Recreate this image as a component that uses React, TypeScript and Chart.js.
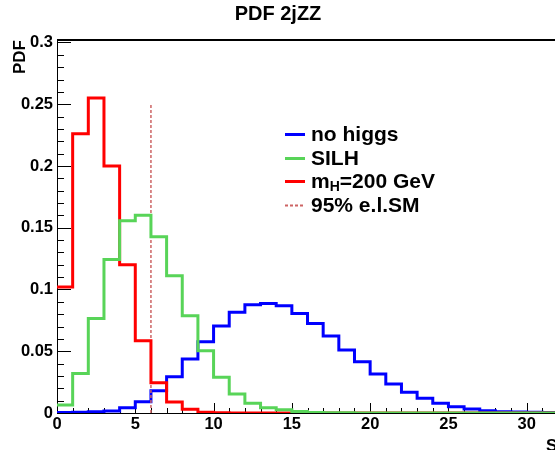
import React, { useEffect, useRef } from "react";
import { Chart, registerables } from "chart.js";

Chart.register(...registerables);

const TITLE = "PDF 2jZZ";
const Y_TITLE = "PDF";
const X_TITLE = "S";

const BIN_EDGES = [
  0, 1, 2, 3, 4, 5, 6, 7, 8, 9, 10, 11, 12, 13, 14, 15, 16, 17, 18, 19, 20,
  21, 22, 23, 24, 25, 26, 27, 28, 29, 30, 31, 32, 33, 34, 35,
];

const NO_HIGGS = [
  0.0005, 0.0007, 0.001, 0.0016, 0.0043, 0.0092, 0.018, 0.0294, 0.0437, 0.0577,
  0.0704, 0.0815, 0.0876, 0.0887, 0.0868, 0.0806, 0.0725, 0.0623, 0.051, 0.0415,
  0.0316, 0.0235, 0.0167, 0.0119, 0.0078, 0.0051, 0.0032, 0.0019, 0.0011, 0.0008,
  0.0006, 0.0004, 0.0003, 0.0002, 0.0001,
];

const SILH = [
  0.0065, 0.032, 0.0766, 0.1243, 0.1556, 0.1602, 0.1427, 0.1111, 0.0787, 0.0504,
  0.0289, 0.0154, 0.0078, 0.0042, 0.0026, 0.0012, 0.0005, 0.0003, 0.0002, 0.0001,
  0, 0, 0, 0, 0, 0, 0, 0, 0, 0, 0, 0, 0, 0, 0,
];

const MH200 = [
  0.102, 0.226, 0.255, 0.2, 0.12, 0.0585, 0.0245, 0.009, 0.003, 0.0006,
  0.0003, 0.0001, 0, 0, 0, 0, 0, 0, 0, 0,
  0, 0, 0, 0, 0, 0, 0, 0, 0, 0, 0, 0, 0, 0, 0,
];

const CL95_X = [6, 6];
const CL95_Y = [0, 0.25];

const SERIES_LABELS = ["no higgs", "SILH", "m_H=200 GeV", "95% e.l.SM"];

const X_TICKS = [0, 5, 10, 15, 20, 25, 30, 35];
const X_TICK_LABELS = ["0", "5", "10", "15", "20", "25", "30", "35"];
const Y_TICKS = [0, 0.05, 0.1, 0.15, 0.2, 0.25, 0.3];
const Y_TICK_LABELS = ["0", "0.05", "0.1", "0.15", "0.2", "0.25", "0.3"];

const X_MIN = 0;
const X_MAX = 35;
const Y_MIN = 0;
const Y_MAX = 0.302;
const X_MINOR_STEP = 1;
const Y_MINOR_STEP = 0.01;

const FONT = "'Liberation Sans', Arial, sans-serif";

function toSteps(values: number[]) {
  const pts = values.map((y, i) => ({ x: BIN_EDGES[i], y }));
  pts.push({ x: BIN_EDGES[values.length], y: values[values.length - 1] });
  return pts;
}

const decorPlugin = {
  id: "decor",
  beforeDatasetsDraw(chart: any) {
    const { ctx, chartArea: a, scales } = chart;
    const xs = scales.x;
    const ys = scales.y;
    ctx.save();
    ctx.strokeStyle = "#000";
    ctx.lineWidth = 1;
    ctx.beginPath();
    ctx.moveTo(a.left + 0.5, a.top);
    ctx.lineTo(a.left + 0.5, a.bottom + 1);
    ctx.moveTo(a.left, a.bottom + 0.5);
    ctx.lineTo(a.right, a.bottom + 0.5);
    ctx.moveTo(a.right - 0.5, a.top);
    ctx.lineTo(a.right - 0.5, a.bottom);
    ctx.stroke();
    ctx.lineWidth = 2;
    ctx.beginPath();
    ctx.moveTo(a.left, a.top);
    ctx.lineTo(a.right, a.top);
    ctx.stroke();

    ctx.lineWidth = 1;
    ctx.beginPath();
    for (let v = X_MIN; v <= X_MAX + 1e-9; v += X_MINOR_STEP) {
      const px = Math.round(xs.getPixelForValue(v)) + 0.5;
      const major = X_TICKS.some((t) => Math.abs(t - v) < 1e-9);
      const len = major ? 10 : 5;
      ctx.moveTo(px, a.bottom);
      ctx.lineTo(px, a.bottom - len);
    }
    for (let k = 0; k * Y_MINOR_STEP <= Y_MAX + 1e-9; k++) {
      const v = k * Y_MINOR_STEP;
      const py = Math.round(ys.getPixelForValue(v)) + 0.5;
      const major = Y_TICKS.some((t) => Math.abs(t - v) < 1e-9);
      const len = major ? 14 : 7;
      ctx.moveTo(a.left, py);
      ctx.lineTo(a.left + len, py);
    }
    ctx.stroke();
    ctx.restore();
  },
  afterDraw(chart: any) {
    const { ctx } = chart;
    ctx.save();
    ctx.fillStyle = "#000";
    ctx.font = `bold 20px ${FONT}`;
    ctx.textAlign = "center";
    ctx.textBaseline = "alphabetic";
    ctx.fillText(TITLE, 278, 20);

    ctx.save();
    ctx.translate(25, 40);
    ctx.rotate(-Math.PI / 2);
    ctx.font = `bold 17px ${FONT}`;
    ctx.textAlign = "right";
    ctx.fillText(Y_TITLE, 0, 0);
    ctx.restore();

    ctx.font = `bold 17px ${FONT}`;
    ctx.textAlign = "left";
    ctx.fillText(X_TITLE, 546, 451);

    const baselines = [140.5, 164.5, 188, 212];
    chart.data.datasets.forEach((ds: any, i: number) => {
      const yb = baselines[i];
      const yl = Math.round(yb - 7) + 0.5;
      ctx.save();
      ctx.strokeStyle = ds.borderColor;
      ctx.lineWidth = ds.legendWidth || ds.borderWidth;
      ctx.setLineDash(ds.borderDash || []);
      ctx.beginPath();
      ctx.moveTo(285, yl);
      ctx.lineTo(305, yl);
      ctx.stroke();
      ctx.restore();

      const label: string = ds.label;
      const m = label.match(/^(.*?)_(\w)(.*)$/);
      ctx.textAlign = "left";
      ctx.font = `bold 21px ${FONT}`;
      let x = 311;
      if (m) {
        ctx.fillText(m[1], x, yb);
        x += ctx.measureText(m[1]).width;
        ctx.font = `bold 14px ${FONT}`;
        ctx.fillText(m[2], x, yb + 3);
        x += ctx.measureText(m[2]).width;
        ctx.font = `bold 21px ${FONT}`;
        ctx.fillText(m[3], x, yb);
      } else {
        ctx.fillText(label, x, yb);
      }
    });
    ctx.restore();
  },
};

export default function App() {
  const ref = useRef<HTMLCanvasElement | null>(null);

  useEffect(() => {
    if (!ref.current) return;
    const chart = new Chart(ref.current, {
      type: "line",
      data: {
        datasets: [
          {
            label: SERIES_LABELS[0],
            data: toSteps(NO_HIGGS),
            borderColor: "#0000ff",
            borderWidth: 3,
            stepped: "before",
            pointRadius: 0,
            fill: false,
            order: 5,
          } as any,
          {
            label: SERIES_LABELS[1],
            data: toSteps(SILH),
            borderColor: "rgb(88,212,88)",
            borderWidth: 3,
            stepped: "before",
            pointRadius: 0,
            fill: false,
            order: 2,
          },
          {
            label: SERIES_LABELS[2],
            data: toSteps(MH200),
            borderColor: "#ff0000",
            borderWidth: 3,
            stepped: "before",
            pointRadius: 0,
            fill: false,
            order: 3,
          },
          {
            label: SERIES_LABELS[3],
            data: CL95_X.map((x, i) => ({ x, y: CL95_Y[i] })),
            borderColor: "rgb(205,100,100)",
            borderWidth: 1.5,
            legendWidth: 2,
            borderDash: [3, 2],
            pointRadius: 0,
            fill: false,
            order: 4,
          },
        ],
      },
      options: {
        animation: false,
        responsive: false,
        maintainAspectRatio: false,
        layout: { padding: { top: 40, right: 35, bottom: 0, left: 0 } },
        plugins: {
          legend: { display: false },
          title: { display: false },
          tooltip: { enabled: false },
        },
        scales: {
          x: {
            type: "linear",
            min: X_MIN,
            max: X_MAX,
            grid: { display: false, drawTicks: false },
            border: { display: false },
            afterBuildTicks: (s: any) => {
              s.ticks = X_TICKS.map((value) => ({ value }));
            },
            afterFit: (s: any) => {
              s.height = 37;
            },
            ticks: {
              color: "#000",
              padding: 2,
              maxRotation: 0,
              autoSkip: false,
              font: { family: FONT, size: 16.5, weight: "bold" },
              callback: (_v: any, i: number) => X_TICK_LABELS[i],
            },
          },
          y: {
            type: "linear",
            min: Y_MIN,
            max: Y_MAX,
            grid: { display: false, drawTicks: false },
            border: { display: false },
            afterBuildTicks: (s: any) => {
              s.ticks = Y_TICKS.map((value) => ({ value }));
            },
            afterFit: (s: any) => {
              s.width = 57;
            },
            ticks: {
              color: "#000",
              padding: 4,
              autoSkip: false,
              font: { family: FONT, size: 16.5, weight: "bold" },
              callback: (_v: any, i: number) => Y_TICK_LABELS[i],
            },
          },
        },
      } as any,
      plugins: [decorPlugin],
    });
    return () => chart.destroy();
  }, []);

  return (
    <div
      style={{
        position: "fixed",
        left: 0,
        top: 0,
        width: 555,
        height: 450,
        overflow: "hidden",
        background: "#fff",
      }}
    >
      <canvas
        ref={ref}
        width={640}
        height={450}
        style={{ display: "block", width: 640, height: 450 }}
      />
    </div>
  );
}
